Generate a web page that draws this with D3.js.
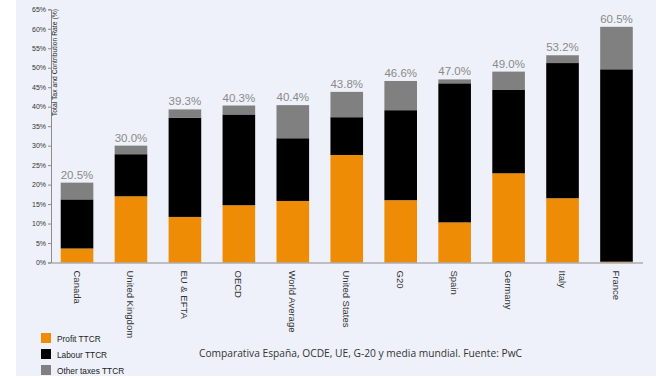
<!DOCTYPE html>
<html><head><meta charset="utf-8">
<script src="https://cdn.jsdelivr.net/npm/d3@7"></script>
<style>body{margin:0;background:#fff}svg{display:block}</style>
</head><body>
<svg id="c" width="672" height="378"></svg>
<script>
const categories = ["Canada","United Kingdom","EU & EFTA","OECD","World Average","United States","G20","Spain","Germany","Italy","France"];
const profit = [3.6,17.0,11.7,14.7,15.8,27.6,16.0,10.3,22.9,16.5,0.2];
const labour = [12.6,10.8,25.5,23.3,16.1,9.7,23.1,35.7,21.5,34.7,49.4];
const other  = [4.3,2.2,2.1,2.3,8.5,6.5,7.5,1.0,4.6,2.0,10.9];
const totals = ["20.5%","30.0%","39.3%","40.3%","40.4%","43.8%","46.6%","47.0%","49.0%","53.2%","60.5%"];
const yTicks = [0,5,10,15,20,25,30,35,40,45,50,55,60,65];
const seriesNames = ["Profit TTCR","Labour TTCR","Other taxes TTCR"];
const seriesColors = ["#ee8c05","#000000","#808080"];

const svg = d3.select("#c");
svg.append("rect").attr("x",16).attr("y",0).attr("width",640).attr("height",376).attr("fill","#eef1f9");

const x = d3.scaleBand().domain(categories).range([51,642.5]).paddingInner(0.3955).paddingOuter(0.18);
const y = d3.scaleLinear().domain([0,65]).range([262.5,9.3]);

const rows = categories.map((c,i)=>({cat:c,p:profit[i],l:labour[i],o:other[i],t:totals[i]}));
const stack = d3.stack().keys(["p","l","o"])(rows);

stack.forEach((s,k)=>{
  svg.append("g").selectAll("rect").data(s).join("rect")
    .attr("x",d=>x(d.data.cat)).attr("width",x.bandwidth())
    .attr("y",d=>y(d[1])).attr("height",d=>y(d[0])-y(d[1]))
    .attr("fill",seriesColors[k]);
});

svg.append("g").selectAll("text").data(rows).join("text")
  .attr("x",d=>x(d.cat)+x.bandwidth()/2)
  .attr("y",d=>y(d.p+d.l+d.o)-4)
  .attr("text-anchor","middle")
  .attr("font-family","Liberation Sans, Arial, sans-serif")
  .attr("font-size",11.5).attr("fill","#8a8a8a")
  .text(d=>d.t);

// y axis
const ya = svg.append("g").attr("transform","translate(51,0)")
  .call(d3.axisLeft(y).tickValues(yTicks).tickFormat(d=>d+"%").tickSize(3).tickPadding(2));
ya.select(".domain").attr("stroke","#8c8c8c");
ya.selectAll(".tick line").attr("stroke","#8c8c8c");
ya.selectAll("text").attr("font-family","Liberation Sans, Arial, sans-serif").attr("font-size",7).attr("fill","#333");

// x axis
const xa = svg.append("g").attr("transform","translate(0,262.5)")
  .call(d3.axisBottom(x).tickSize(0).tickSizeOuter(0));
xa.select(".domain").attr("stroke","#8c8c8c");
xa.selectAll("text")
  .attr("font-family","Liberation Sans, Arial, sans-serif").attr("font-size",9.5).attr("fill","#333")
  .attr("text-anchor","start").attr("dy",null).attr("y",0)
  .attr("transform","translate(-3.5,8) rotate(90)");

// y title
svg.append("text").attr("transform","translate(57,9) rotate(-90)")
  .attr("text-anchor","end").attr("font-family","Liberation Sans, Arial, sans-serif")
  .attr("font-size",6.8).attr("fill","#222").text("Total Tax and Contribution Rate (%)");

// legend
const lg = svg.append("g");
seriesNames.forEach((n,i)=>{
  lg.append("rect").attr("x",41).attr("y",333+i*16).attr("width",10).attr("height",10).attr("fill",seriesColors[i]);
  lg.append("text").attr("x",57).attr("y",341.5+i*16).attr("font-family","Liberation Sans, Arial, sans-serif")
    .attr("font-size",8.3).attr("fill","#222").text(n);
});

svg.append("text").attr("x",199).attr("y",357).attr("font-family","Open Sans, sans-serif")
  .attr("font-size",10).attr("fill","#333").attr("textLength",323).attr("lengthAdjust","spacingAndGlyphs")
  .text("Comparativa España, OCDE, UE, G-20 y media mundial. Fuente: PwC");
</script>
</body></html>
